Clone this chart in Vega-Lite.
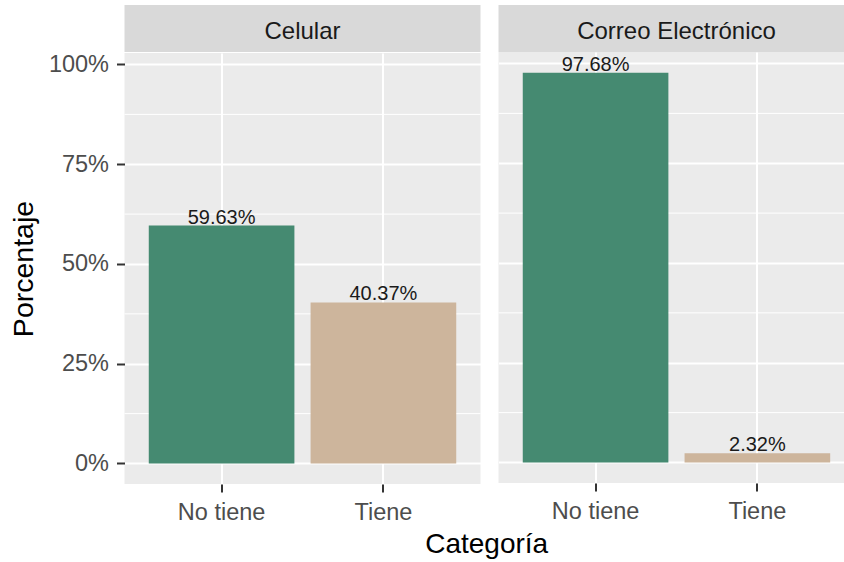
{
  "$schema": "https://vega.github.io/schema/vega-lite/v6.json",
  "padding": {"left": 8.5, "top": 5, "right": 0, "bottom": 0},
  "background": "white",
  "spacing": 16,
  "datasets": {
    "panels": [{"panel": "Celular"}, {"panel": "Correo Electrónico"}],
    "d": [
      {"panel": "Celular", "categoria": "No tiene", "pct": 0.5963},
      {"panel": "Celular", "categoria": "Tiene", "pct": 0.4037},
      {"panel": "Correo Electrónico", "categoria": "No tiene", "pct": 0.9768},
      {"panel": "Correo Electrónico", "categoria": "Tiene", "pct": 0.0232}
    ],
    "minor": [{"v": 0.125}, {"v": 0.375}, {"v": 0.625}, {"v": 0.875}]
  },
  "title": {"text": "Categoría", "orient": "bottom", "anchor": "middle", "fontSize": 28, "fontWeight": "normal", "font": "Liberation Sans", "color": "#000000", "dx": 59, "offset": 7},
  "hconcat": [
    {
      "spacing": 0,
      "vconcat": [
        {
          "width": 356, "height": 47,
          "view": {"fill": "#d9d9d9", "stroke": null},
          "data": {"name": "panels"},
          "transform": [{"filter": "datum.panel == 'Celular'"}],
          "mark": {"type": "text", "fontSize": 24, "color": "#1a1a1a", "dy": 3},
          "encoding": {"text": {"field": "panel"}}
        },
        {
          "width": 356, "height": 431,
          "view": {"fill": "#ebebeb", "stroke": null},
          "layer": [
            {
              "data": {"name": "minor"},
              "mark": {"type": "rule", "color": "#ffffff", "strokeWidth": 1},
              "encoding": {
                "y": {"field": "v", "type": "quantitative", "scale": {"domain": [-0.0514, 1.0288], "nice": false, "zero": false}, "axis": {"title": "Porcentaje", "format": ".0%", "values": [0, 0.25, 0.5, 0.75, 1], "grid": true}}
              }
            },
            {
              "data": {"name": "d"},
              "transform": [{"filter": "datum.panel == 'Celular'"}],
              "mark": {"type": "bar"},
              "encoding": {
                "x": {"field": "categoria", "type": "nominal", "sort": ["No tiene", "Tiene"], "scale": {"paddingInner": 0.1, "paddingOuter": 0.15}, "axis": {"title": null, "grid": true, "bandPosition": 0.5}},
                "y": {"field": "pct", "type": "quantitative", "scale": {"domain": [-0.0514, 1.0288], "nice": false, "zero": false}, "axis": {"title": "Porcentaje", "format": ".0%", "values": [0, 0.25, 0.5, 0.75, 1], "grid": true}},
                "y2": {"datum": 0},
                "color": {"field": "categoria", "type": "nominal", "scale": {"domain": ["No tiene", "Tiene"], "range": ["#458a71", "#cdb59c"]}, "legend": null}
              }
            },
            {
              "data": {"name": "d"},
              "transform": [{"filter": "datum.panel == 'Celular'"}],
              "mark": {"type": "text", "baseline": "alphabetic", "dy": -2, "fontSize": 20, "font": "Liberation Sans", "color": "#1a1a1a"},
              "encoding": {
                "x": {"field": "categoria", "type": "nominal", "sort": ["No tiene", "Tiene"], "axis": {"title": null, "grid": true, "bandPosition": 0.5}},
                "y": {"field": "pct", "type": "quantitative", "axis": {"title": "Porcentaje", "format": ".0%", "values": [0, 0.25, 0.5, 0.75, 1], "grid": true}},
                "text": {"field": "pct", "type": "quantitative", "format": ".2%"}
              }
            }
          ]
        }
      ]
    },
    {
      "spacing": 0,
      "vconcat": [
        {
          "width": 347, "height": 47,
          "view": {"fill": "#d9d9d9", "stroke": null},
          "data": {"name": "panels"},
          "transform": [{"filter": "datum.panel == 'Correo Electrónico'"}],
          "mark": {"type": "text", "fontSize": 24, "color": "#1a1a1a", "dy": 3, "dx": 4.5},
          "encoding": {"text": {"field": "panel"}}
        },
        {
          "width": 347, "height": 431,
          "view": {"fill": "#ebebeb", "stroke": null},
          "layer": [
            {
              "data": {"name": "minor"},
              "mark": {"type": "rule", "color": "#ffffff", "strokeWidth": 1},
              "encoding": {
                "y": {"field": "v", "type": "quantitative", "scale": {"domain": [-0.0514, 1.0288], "nice": false, "zero": false}, "axis": {"title": null, "labels": false, "ticks": false, "values": [0, 0.25, 0.5, 0.75, 1], "grid": true}}
              }
            },
            {
              "data": {"name": "d"},
              "transform": [{"filter": "datum.panel == 'Correo Electrónico'"}],
              "mark": {"type": "bar"},
              "encoding": {
                "x": {"field": "categoria", "type": "nominal", "sort": ["No tiene", "Tiene"], "scale": {"paddingInner": 0.1, "paddingOuter": 0.1223, "align": 0.613}, "axis": {"title": null, "grid": true, "bandPosition": 0.5}},
                "y": {"field": "pct", "type": "quantitative", "scale": {"domain": [-0.0514, 1.0288], "nice": false, "zero": false}, "axis": {"title": null, "labels": false, "ticks": false, "values": [0, 0.25, 0.5, 0.75, 1], "grid": true}},
                "y2": {"datum": 0},
                "color": {"field": "categoria", "type": "nominal", "scale": {"domain": ["No tiene", "Tiene"], "range": ["#458a71", "#cdb59c"]}, "legend": null}
              }
            },
            {
              "data": {"name": "d"},
              "transform": [{"filter": "datum.panel == 'Correo Electrónico'"}],
              "mark": {"type": "text", "baseline": "alphabetic", "dy": -2, "fontSize": 20, "font": "Liberation Sans", "color": "#1a1a1a"},
              "encoding": {
                "x": {"field": "categoria", "type": "nominal", "sort": ["No tiene", "Tiene"], "axis": {"title": null, "grid": true, "bandPosition": 0.5}},
                "y": {"field": "pct", "type": "quantitative", "axis": {"title": null, "labels": false, "ticks": false, "values": [0, 0.25, 0.5, 0.75, 1], "grid": true}},
                "text": {"field": "pct", "type": "quantitative", "format": ".2%"}
              }
            }
          ]
        }
      ]
    }
  ],
  "config": {
    "view": {"stroke": null},
    "font": "Liberation Sans",
    "axis": {
      "domain": false,
      "tickColor": "#333333",
      "tickWidth": 2,
      "tickSize": 8,
      "labelColor": "#4d4d4d",
      "labelFontSize": 23.5,
      "labelFont": "Liberation Sans",
      "gridColor": "#ffffff",
      "gridWidth": 2,
      "titleFont": "Liberation Sans",
      "titleFontSize": 28.5,
      "titleFontWeight": "normal",
      "titleColor": "#000000"
    },
    "axisX": {"labelAngle": 0, "labelPadding": 8},
    "axisY": {"labelPadding": 8, "titlePadding": 10}
  }
}
